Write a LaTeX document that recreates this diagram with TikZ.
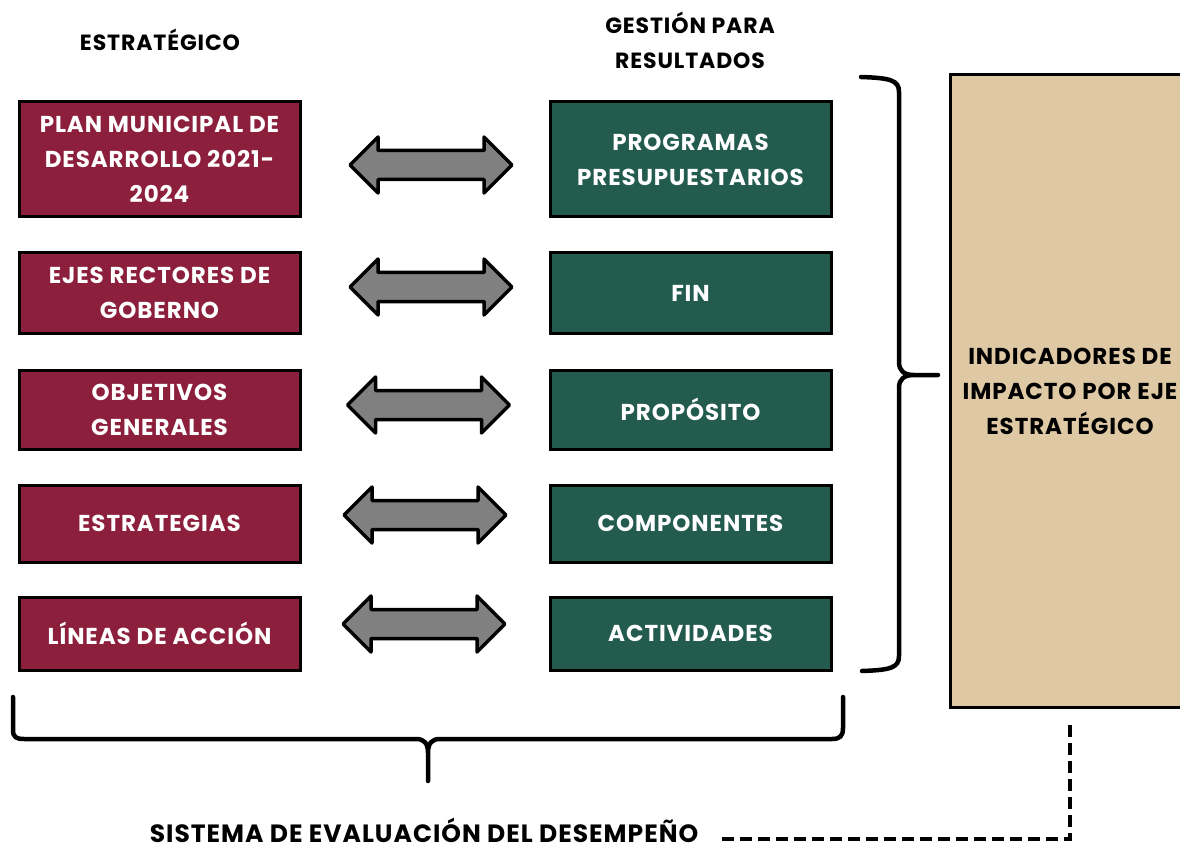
\documentclass[tikz,border=0pt]{standalone}
\usepackage{fontspec}
\setmainfont{Poppins}[LetterSpace=4]
\definecolor{guinda}{HTML}{8B1F3C}
\definecolor{verde}{HTML}{235B4E}
\definecolor{arena}{HTML}{DFC9A5}
\tikzset{
  box/.style={draw=black, line width=3pt, minimum width=281pt, align=center, text=white,
    font=\fontsize{23}{35}\selectfont\bfseries, inner sep=0pt},
  redbox/.style={box, fill=guinda},
  greenbox/.style={box, fill=verde},
  dblarrow/.pic={\draw[fill=gray, line width=3.5pt, line join=round]
    (-81,0) -- (-53,-28) -- (-53,-14.5) -- (53,-14.5) -- (53,-28) -- (81,0)
    -- (53,28) -- (53,14.5) -- (-53,14.5) -- (-53,28) -- cycle;},
  title/.style={font=\fontsize{22}{35}\selectfont\bfseries, align=center},
  bracket/.style={line width=4.5pt, line cap=round, line join=round},
}

\begin{document}
\begin{tikzpicture}[x=1pt, y=-1pt]
    \useasboundingbox (0,0) rectangle (1180,850);
    \node[title] (hestr) at (160,40) {ESTRATÉGICO};
    \node[title] (hgest) at (690,40) {GESTIÓN PARA\\RESULTADOS};

    \node[redbox, minimum height=115pt] (pmd) at (159.5,159.5) {PLAN MUNICIPAL DE\\DESARROLLO 2021-\\2024};
    \node[redbox, minimum height=80pt] (ejes) at (159.5,293) {EJES RECTORES DE\\GOBERNO};
    \node[redbox, minimum height=79pt] (obj) at (159.5,409.5) {OBJETIVOS\\GENERALES};
    \node[redbox, minimum height=77pt] (estr) at (159.5,523.5) {ESTRATEGIAS};
    \node[redbox, minimum height=73pt] (lin) at (159.5,633.5) {LÍNEAS DE ACCIÓN};

    \node[greenbox, minimum height=115pt] (pp) at (690.5,159.5) {PROGRAMAS\\PRESUPUESTARIOS};
    \node[greenbox, minimum height=80pt] (fin) at (690.5,293) {FIN};
    \node[greenbox, minimum height=79pt] (prop) at (690.5,409.5) {PROPÓSITO};
    \node[greenbox, minimum height=77pt] (comp) at (690.5,523.5) {COMPONENTES};
    \node[greenbox, minimum height=73pt] (act) at (690.5,633.5) {ACTIVIDADES};

    \pic (a1) at (431,165) {dblarrow};
    \pic (a2) at (431,287) {dblarrow};
    \pic (a3) at (428.5,405) {dblarrow};
    \pic (a4) at (425,515) {dblarrow};
    \pic (a5) at (424,624) {dblarrow};

    \node[box, fill=arena, text=black, minimum width=240pt, minimum height=632pt] (ind) at (1070,391)
      {INDICADORES DE\\IMPACTO POR EJE\\ESTRATÉGICO};

    % llaves
    \draw[bracket] (861,77) .. controls (890,78) and (899,80) .. (899,92) -- (899,362)
      .. controls (899,371) and (904,375) .. (914,375) -- (938,375) -- (914,375)
      .. controls (904,375) and (899,379) .. (899,388) -- (899,656)
      .. controls (899,668) and (890,670) .. (862,671);
    \draw[bracket] (13,697) -- (13,730) .. controls (13,737) and (16,739) .. (24,739) -- (416,739)
      .. controls (424,739) and (428,743) .. (428,753) -- (428,781) -- (428,753)
      .. controls (428,743) and (432,739) .. (440,739) -- (832,739)
      .. controls (840,739) and (843,736) .. (843,728) -- (843,697);

    \node[title, font=\fontsize{25}{35}\selectfont\bfseries, anchor=base, inner sep=0pt] (sed) at (424,842) {SISTEMA DE EVALUACIÓN DEL DESEMPEÑO};
    \coordinate (dstart) at (1070,725);
    \draw[line width=4pt, dash pattern=on 12pt off 6pt] (dstart) |- ([xshift=22pt,yshift=-9pt]sed.east);
\end{tikzpicture}
\end{document}
